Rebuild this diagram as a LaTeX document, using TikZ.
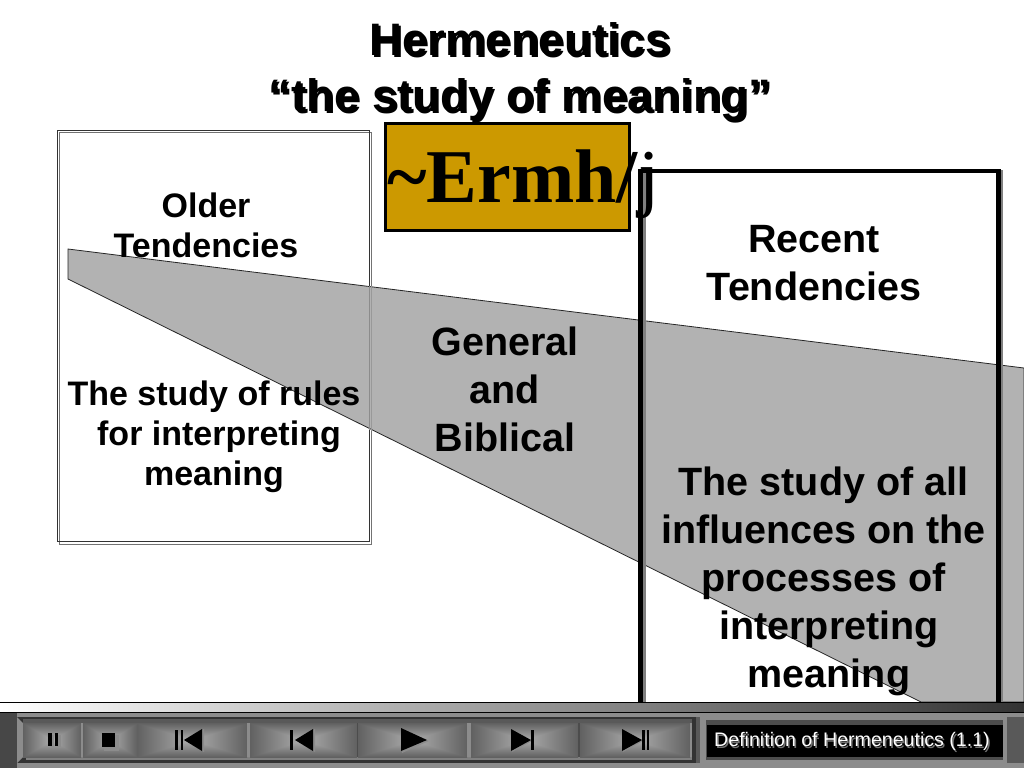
\documentclass[tikz,border=0pt]{standalone}
\usepackage{fontspec}
\setmainfont{Liberation Sans}
\newfontfamily\serifbold{Liberation Serif}
\pgfdeclarefunctionalshading{pyramid}{\pgfpoint{-50bp}{-50bp}}{\pgfpoint{50bp}{50bp}}{}{
  abs exch abs 2 copy lt {exch} if pop 50 div 0.6 mul 0.68 exch sub dup dup
}
\definecolor{polygray}{HTML}{B2B2B2}
\definecolor{gold}{HTML}{CC9900}
\tikzset{
  bodytext/.style={font=\fontsize{34}{40}\selectfont\bfseries,align=center,text=black,inner sep=0pt},
  bigtext/.style={font=\fontsize{39.5}{48}\selectfont\bfseries,align=center,text=black,inner sep=0pt},
  titletext/.style={font=\fontsize{45.5}{56}\selectfont\bfseries,align=center,text=black,inner sep=0pt},
  btn/.style={shading=pyramid,draw=none},
  sep/.style={fill=black!45,draw=none},
  glyph/.style={fill=black,draw=none},
  glyphshadow/.style={fill=black!45,draw=none},
}
\begin{document}
\begin{tikzpicture}[x=1pt,y=-1pt]
\useasboundingbox (0,0) rectangle (1024,768);
\fill[white] (0,0) rectangle (1024,768);
% left box
\draw[black!55,line width=1.5pt] (59.5,132.5) rectangle (371.5,544.5);
\draw[black!80,line width=1pt] (57.5,130.5) rectangle (369.5,541.5);
% gray wedge
\path[fill=polygray,draw=black!85,line width=0.8pt] (68,249) -- (1024,368) -- (1024,702) -- (921,702) -- (68,279) -- cycle;
\draw[black!45,line width=1pt] (369.5,286) -- (369.5,430);
\draw[black!40,line width=1pt] (371.5,286) -- (371.5,431);
% right box
\draw[black!50,line width=3pt] (644.5,173) -- (644.5,702);
\draw[black!50,line width=3.5pt] (1001.5,170) -- (1001.5,702);
\draw[black,line width=4.5pt] (640.5,702) -- (640.5,171) -- (998.5,171) -- (998.5,702);
% gold box
\node[fill=gold,draw=black,line width=3pt,minimum width=244pt,minimum height=107pt,inner sep=0pt] (gold) at (507,176.5) {};
\node[inner sep=0pt,anchor=base west] (hebrew) at (387,202) {\fontsize{76}{76}\selectfont\serifbold\textbf{\char`\~Ermh/}j};
% title
\node[titletext] (titleshadow) at (522,73.5) {Hermeneutics\\“the study of meaning”};
\node[titletext] (title) at (520,71.5) {Hermeneutics\\“the study of meaning”};
% texts
\node[bodytext] (older) at (206,225) {Older\\Tendencies};
\node[bodytext] (oldertext) at (214,436.5) {The study of rules\\\hspace*{10pt}for interpreting\\meaning};
\node[bigtext] (general) at (505,389) {General\\and\\Biblical};
\node[bigtext] (recent) at (814,263.5) {Recent\\Tendencies};
\node[bigtext] (recenttext) at (823.5,581.5) {The study of all\\influences on the\\processes of\\\hspace*{11pt}interpreting\\\hspace*{11pt}meaning};
% toolbar
\shade[left color=white,right color=black!80] (0,702) rectangle (1024,712);
\draw[black,line width=1pt] (0,702) -- (1024,702);
\draw[black,line width=1pt] (0,712) -- (1024,712);
\fill[black!65] (0,713) rectangle (1024,768);
\fill[black!45] (0,713) rectangle (1024,717);
\fill[black!45] (17,763) rectangle (1024,768);
\fill[black!72] (0,713) rectangle (17,768);
% player frame
\fill[black!80] (17,717) rectangle (696,763);
\fill[black!65] (23,719) rectangle (692,723);
\fill[black!50] (26,757) rectangle (692,760);
\fill[black!45] (17,717) -- (23,723) -- (23,757) -- (17,763) -- cycle;
% buttons
\foreach \xa/\xb/\nm in {23/81/bpause,83/137/bstop,137/247/bfirst,250/357/bprev,358/467/bplay,471/578/bnext,580/690/blast}{
  \path[btn] (\xa,723) rectangle (\xb,757);
}
\fill[sep] (81,723) rectangle (83,757);
\fill[sep] (247,723) rectangle (250,757);
\fill[black!70] (357,723) rectangle (358,757);
\fill[sep] (467,723) rectangle (471,757);
\fill[black!70] (578,723) rectangle (580,757);
\fill[sep] (690,723) rectangle (692,757);
% pause
\fill[glyphshadow] (50,735) rectangle (54,747);
\fill[glyphshadow] (57,735) rectangle (61,747);
\fill[glyph] (48,733) rectangle (52,746);
\fill[glyph] (55,733) rectangle (58,746);
% stop
\fill[glyphshadow] (104,735) rectangle (119,751);
\fill[glyph] (102,733) rectangle (115,747);
% first
\fill[glyph] (175,730) rectangle (178,750);
\fill[glyph] (181,730) rectangle (183,750);
\fill[glyphshadow] (186,740) -- (204,729) -- (204,752) -- cycle;
\fill[glyph] (184,740) -- (202,729) -- (202,751) -- cycle;
% prev
\fill[glyph] (290,730) rectangle (293,750);
\fill[glyphshadow] (297,740) -- (315,729) -- (315,752) -- cycle;
\fill[glyph] (295,740) -- (313,729) -- (313,751) -- cycle;
% play
\fill[glyphshadow] (402,729) -- (429,741) -- (402,753) -- cycle;
\fill[glyph] (401,728) -- (427,740) -- (401,751) -- cycle;
% next
\fill[glyphshadow] (512,731) -- (532,741) -- (512,752) -- cycle;
\fill[glyph] (511,729) -- (531,740) -- (511,751) -- cycle;
\fill[glyph] (531,730) rectangle (534,750);
% last
\fill[glyphshadow] (623,731) -- (643,741) -- (623,752) -- cycle;
\fill[glyph] (622,729) -- (642,740) -- (622,751) -- cycle;
\fill[glyph] (642,730) rectangle (645,750);
\fill[glyph] (647,730) rectangle (649,750);
% caption panel
\fill[black!45] (700,717) -- (1007,717) -- (1007,763) -- (700,763) -- cycle;
\fill[black!70] (706,720) rectangle (1003,760);
\fill[black] (707,725) rectangle (1003,757);
\node[inner sep=0pt,text=black!55,font=\fontsize{19.6}{19.6}\selectfont] (captionshadow) at (853.5,743) {Definition of Hermeneutics (1.1)};
\node[inner sep=0pt,text=white,font=\fontsize{19.6}{19.6}\selectfont] (caption) at (852,741.5) {Definition of Hermeneutics (1.1)};
\end{tikzpicture}
\end{document}
